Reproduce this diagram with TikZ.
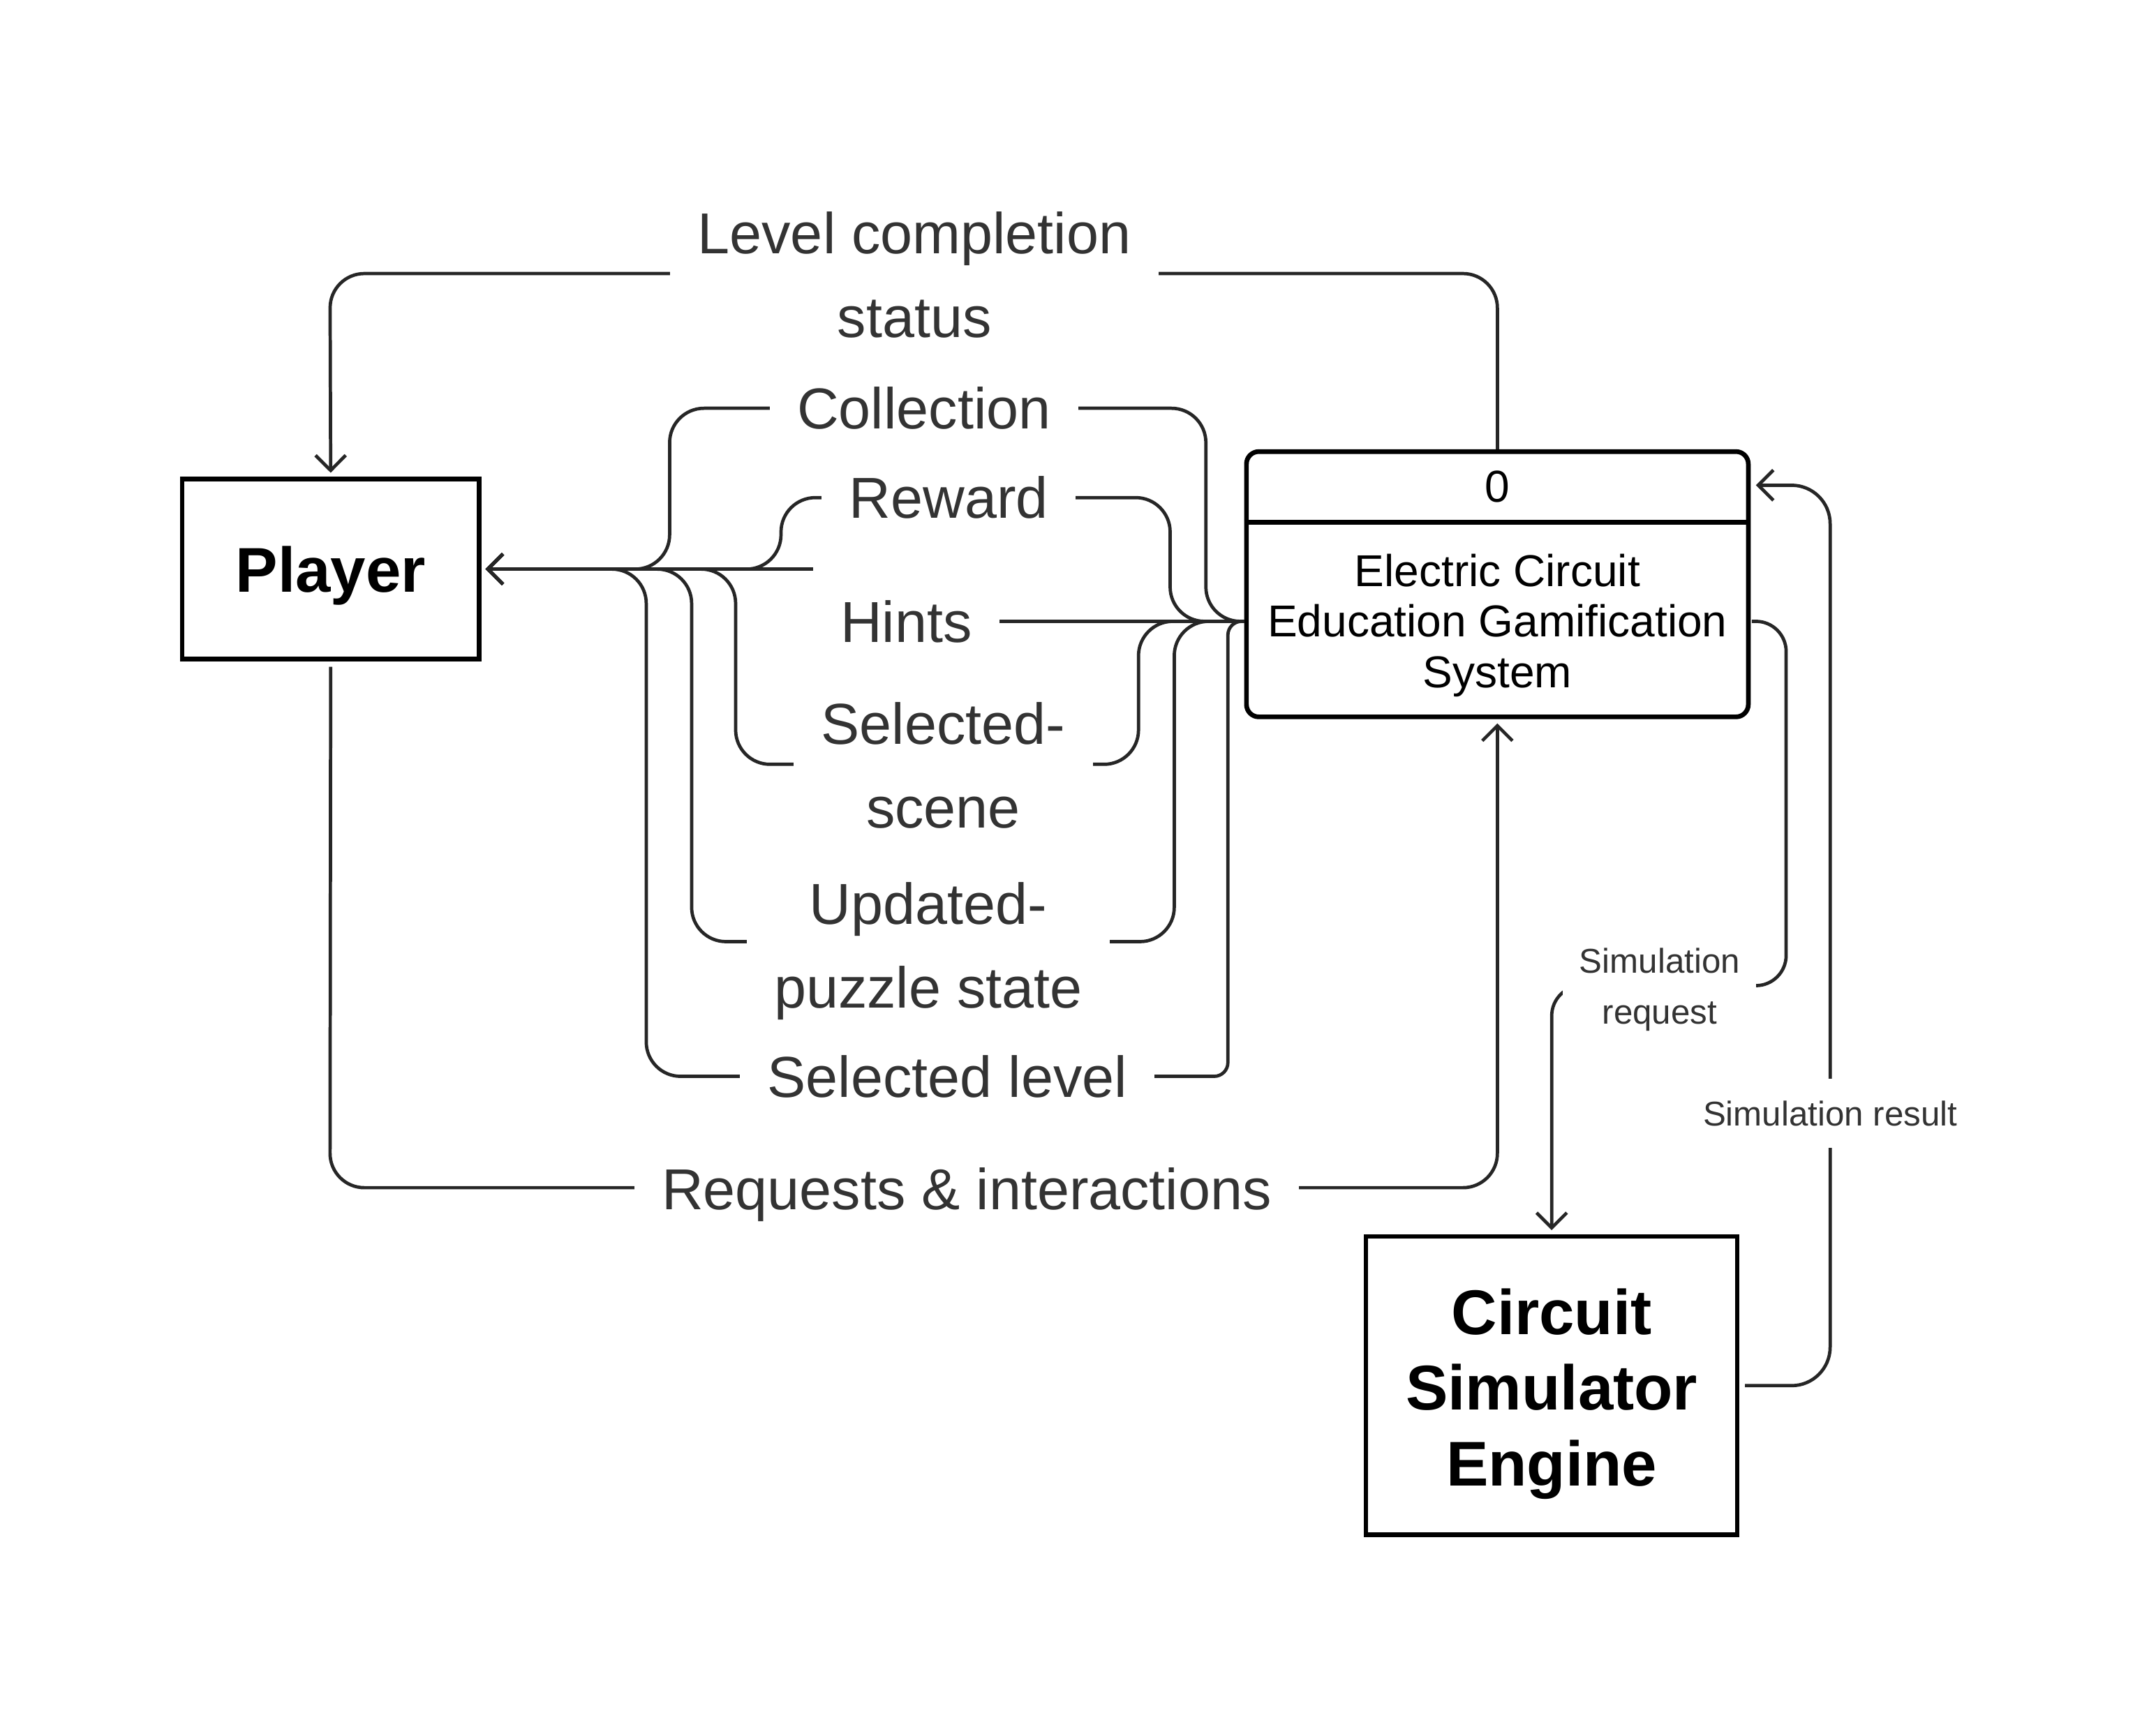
\documentclass[tikz,border=0pt]{standalone}
\usepackage{fontspec}
\setmainfont{Liberation Sans}
\usetikzlibrary{arrows.meta}
\definecolor{ink}{HTML}{262626}
\definecolor{lbltext}{HTML}{333333}
\begin{document}
\begin{tikzpicture}[x=1pt,y=-1pt,
  conn/.style={draw=ink, line width=2.4pt, rounded corners=25pt},
  arr/.style={-{Straight Barb[length=11pt,width=22pt,line width=2.4pt]}, shorten >=3pt},
  lbl/.style={fill=white, text=lbltext, font=\fontsize{42}{61}\selectfont, align=center, inner xsep=20pt, inner ysep=4pt},
  small/.style={fill=white, text=lbltext, font=\fontsize{25}{37}\selectfont, align=center, inner xsep=12pt, inner ysep=4pt},
  ent/.style={draw=black, line width=3.2pt, font=\fontsize{46}{55}\selectfont\bfseries, align=center, inner sep=0pt},
  enttext/.style={font=\fontsize{46}{55}\selectfont\bfseries, align=center, inner sep=0pt},
  proc/.style={font=\fontsize{32.5}{37}\selectfont, align=center, inner sep=0pt},
]
\useasboundingbox (0,0) rectangle (1568,1251);

% entities
\node[ent, minimum width=216pt, minimum height=131pt, text depth=0pt] (player) at (240.5,414) {Player};
\node[ent, minimum width=270pt, minimum height=217pt] (cse) at (1128.5,1008) {};
\node[enttext] (csetext) at (1128.5,1014) {Circuit\\Simulator\\Engine};

% process
\node[draw=black, line width=3.4pt, rounded corners=9pt, minimum width=365pt, minimum height=193pt] (sys) at (1089,425) {};
\draw[line width=3.4pt] (sys.west |- 0,380) -- (sys.east |- 0,380);
\node[proc] (sysid) at (1089,354) {0};
\node[proc] (systext) at (1089,455) {Electric Circuit\\Education Gamification\\System};

\coordinate (sysL) at (905,452);
\coordinate (sysR) at (1274,452);
\coordinate (sysRt) at (1274,353);

% flows
\draw[conn,arr] (sys.north) -- (1089,199) -- (240,199) -- (player.north);
\draw[conn,arr, shorten <=4pt] (player.south) -- (240,864) -- (1089,864) -- (sys.south);

\draw[conn,arr] (sysL) -- (877,452) -- (877,297) -- (487,297) -- (487,414) -- (player.east);
\draw[conn,arr] (sysL) -- (851,452) -- (851,362) -- (568,362) -- (568,414) -- (player.east);
\draw[conn,arr,sharp corners] (sysL) -- (659,452) -- (659,414) -- (player.east);
\draw[conn,arr] (sysL) -- (828,452) -- (828,556) -- (535,556) -- (535,414) -- (player.east);
\draw[conn,arr] (sysL) -- (854,452) -- (854,685) -- (503,685) -- (503,414) -- (player.east);
\draw[conn,arr] (sysL) [rounded corners=10pt] -- (893,452) -- (893,783) [rounded corners=25pt] -- (470,783) -- (470,414) -- (player.east);

\draw[conn,arr,rounded corners=22pt] (sysR) -- (1299,452) -- (1299,717) -- (1128.5,717) -- (cse.north);
\draw[conn,arr,rounded corners=28pt, shorten <=4pt] (cse.east) -- (1331,1008) -- (1331,353) -- (sysRt);

% labels
\node[lbl] (l1) at (665,200) {Level completion\\status};
\node[lbl] (l2) at (672,297) {Collection};
\node[lbl] (l3) at (690,362) {Reward};
\node[lbl, minimum height=80pt] (l4) at (659,452) {Hints};
\node[lbl] (l5) at (686,557) {Selected-\\scene};
\node[lbl] (l6) at (675,692) {Updated-\\puzzle state};
\node[lbl] (l7) at (689,783) {Selected level};
\node[lbl] (l8) at (703,869) {Requests \& interactions};
\node[small] (l9) at (1207,720) {Simulation\\request};
\node[small, inner ysep=16pt] (l10) at (1331,810) {Simulation result};
\end{tikzpicture}
\end{document}
